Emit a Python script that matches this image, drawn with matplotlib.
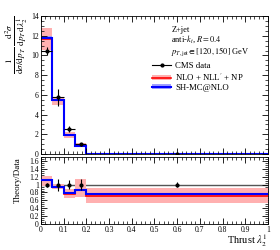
import matplotlib
matplotlib.use('Agg')
import matplotlib.pyplot as plt
from matplotlib.patches import Patch
from matplotlib.lines import Line2D
from matplotlib.ticker import MultipleLocator

# ---- data ----
bin_edges = [0.0, 0.05, 0.10, 0.15, 0.20, 1.0]
data_x = [0.025, 0.075, 0.125, 0.175, 0.6]
data_xerr = [0.025, 0.025, 0.025, 0.025, 0.0]
data_y = [10.45, 5.75, 2.54, 0.98, 0.03]
data_err = [0.45, 0.85, 0.30, 0.13, 0.01]

nlo_y = [11.7, 5.45, 1.95, 0.84, 0.021]
nlo_lo = [10.6, 5.0, 1.65, 0.68, 0.015]
nlo_hi = [12.8, 5.8, 2.24, 1.12, 0.028]

mc_y = [11.8, 5.5, 1.95, 0.82, 0.022]
mc_lo = [11.65, 5.42, 1.92, 0.80, 0.021]
mc_hi = [11.95, 5.58, 1.98, 0.84, 0.023]

ratio_data_err = [0.05, 0.15, 0.12, 0.13, 0.06]
ratio_nlo = [1.11, 0.94, 0.77, 0.86, 0.71]
ratio_nlo_lo = [0.97, 0.88, 0.65, 0.69, 0.53]
ratio_nlo_hi = [1.22, 1.02, 0.88, 1.14, 0.92]
ratio_mc = [1.12, 0.95, 0.78, 0.865, 0.75]
ratio_mc_lo = [1.10, 0.93, 0.765, 0.85, 0.735]
ratio_mc_hi = [1.14, 0.97, 0.795, 0.88, 0.765]

RED = '#ff0000'
PINK = '#ffb0b0'
BLUE = '#0000ff'
LBLUE = '#a0a0ff'

plt.rcParams['font.family'] = ['Liberation Serif', 'DejaVu Serif']
plt.rcParams['mathtext.fontset'] = 'stix'

fig = plt.figure(figsize=(2.8, 2.5), dpi=100)
ax = fig.add_axes([0.146, 0.384, 0.811, 0.552])
axr = fig.add_axes([0.146, 0.104, 0.811, 0.268])

# top panel
ax.stairs(nlo_hi, bin_edges, baseline=nlo_lo, fill=True, color=PINK, lw=0)
ax.stairs(mc_hi, bin_edges, baseline=mc_lo, fill=True, color=LBLUE, lw=0)
ax.stairs(nlo_y, bin_edges, color=RED, lw=1.2, baseline=None)
ax.stairs(mc_y, bin_edges, color=BLUE, lw=1.5, baseline=None)
ax.errorbar(data_x, data_y, yerr=data_err, xerr=data_xerr, fmt='o', color='black',
            ms=2, elinewidth=0.8, capsize=0, zorder=5)
ax.set_xlim(0, 1)
ax.set_ylim(0, 14)
ax.yaxis.set_major_locator(MultipleLocator(2))
ax.yaxis.set_minor_locator(MultipleLocator(0.5))
ax.xaxis.set_major_locator(MultipleLocator(0.1))
ax.xaxis.set_minor_locator(MultipleLocator(0.02))
ax.tick_params(axis='x', labelbottom=False)
ax.set_ylabel(r'$\frac{1}{\mathrm{d}\sigma/\mathrm{d}p_T}\,\frac{\mathrm{d}^2\sigma}{\mathrm{d}p_T\,\mathrm{d}\lambda_2^1}$',
              loc='top', fontsize=9.5, labelpad=1)

ax.text(0.575, 0.895, 'Z+jet', transform=ax.transAxes, fontsize=6, va='center')
ax.text(0.575, 0.832, r'anti-$k_t$, $R = 0.4$', transform=ax.transAxes, fontsize=6, va='center')
ax.text(0.575, 0.74, r'$p_{T,\mathrm{jet}} \in [120, 150]$ GeV', transform=ax.transAxes, fontsize=6, va='center')

h_data = Line2D([0], [0], color='black', marker='o', ms=2, lw=0.8)
h_nlo = (Patch(color=PINK, lw=0), Line2D([0], [0], color=RED, lw=1.2))
h_mc = (Patch(color=LBLUE, lw=0), Line2D([0], [0], color=BLUE, lw=1.5))
ax.legend([h_data, h_nlo, h_mc], ['CMS data', r"NLO + NLL$'$ + NP", 'SH-MC@NLO'],
          loc='upper left', bbox_to_anchor=(0.49, 0.665), frameon=False, fontsize=6.3,
          handlelength=2.2, handleheight=0.5, handletextpad=0.4, labelspacing=0.12,
          borderpad=0.0, borderaxespad=0.0)

# ratio panel
axr.axhline(1.0, color='#555555', lw=1.0, zorder=1)
axr.stairs(ratio_nlo_hi, bin_edges, baseline=ratio_nlo_lo, fill=True, color=PINK, lw=0, zorder=2)
axr.stairs(ratio_mc_hi, bin_edges, baseline=ratio_mc_lo, fill=True, color=LBLUE, lw=0, zorder=2)
axr.stairs(ratio_nlo, bin_edges, color=RED, lw=1.2, baseline=None, zorder=3)
axr.stairs(ratio_mc, bin_edges, color=BLUE, lw=1.5, baseline=None, zorder=3)
axr.errorbar(data_x, [1.0] * len(data_x), yerr=ratio_data_err, fmt='o', color='black',
             ms=2, elinewidth=0.8, capsize=0, zorder=5)
axr.set_xlim(0, 1)
axr.set_ylim(0, 1.7)
axr.yaxis.set_major_locator(MultipleLocator(0.2))
axr.yaxis.set_minor_locator(MultipleLocator(0.05))
axr.xaxis.set_major_locator(MultipleLocator(0.1))
axr.xaxis.set_minor_locator(MultipleLocator(0.02))
axr.set_ylabel('Theory/Data', loc='top', fontsize=6.5, labelpad=5)
axr.set_xlabel(r'Thrust $\lambda_2^1$', loc='right', fontsize=7.5, labelpad=-1)
axr.set_xticks([0, 0.1, 0.2, 0.3, 0.4, 0.5, 0.6, 0.7, 0.8, 0.9, 1.0])
axr.set_xticklabels(['0', '0.1', '0.2', '0.3', '0.4', '0.5', '0.6', '0.7', '0.8', '0.9', '1'])
axr.set_yticks([0, 0.2, 0.4, 0.6, 0.8, 1.0, 1.2, 1.4, 1.6])
axr.set_yticklabels(['0', '0.2', '0.4', '0.6', '0.8', '1', '1.2', '1.4', '1.6'])

for a in (ax, axr):
    a.tick_params(which='both', direction='in', top=True, right=True, labelsize=5.5, pad=1.5)
    a.tick_params(which='major', length=4, width=0.6)
    a.tick_params(which='minor', length=2, width=0.5)
    for s in a.spines.values():
        s.set_linewidth(0.6)

fig.savefig('out.png', dpi=100)
